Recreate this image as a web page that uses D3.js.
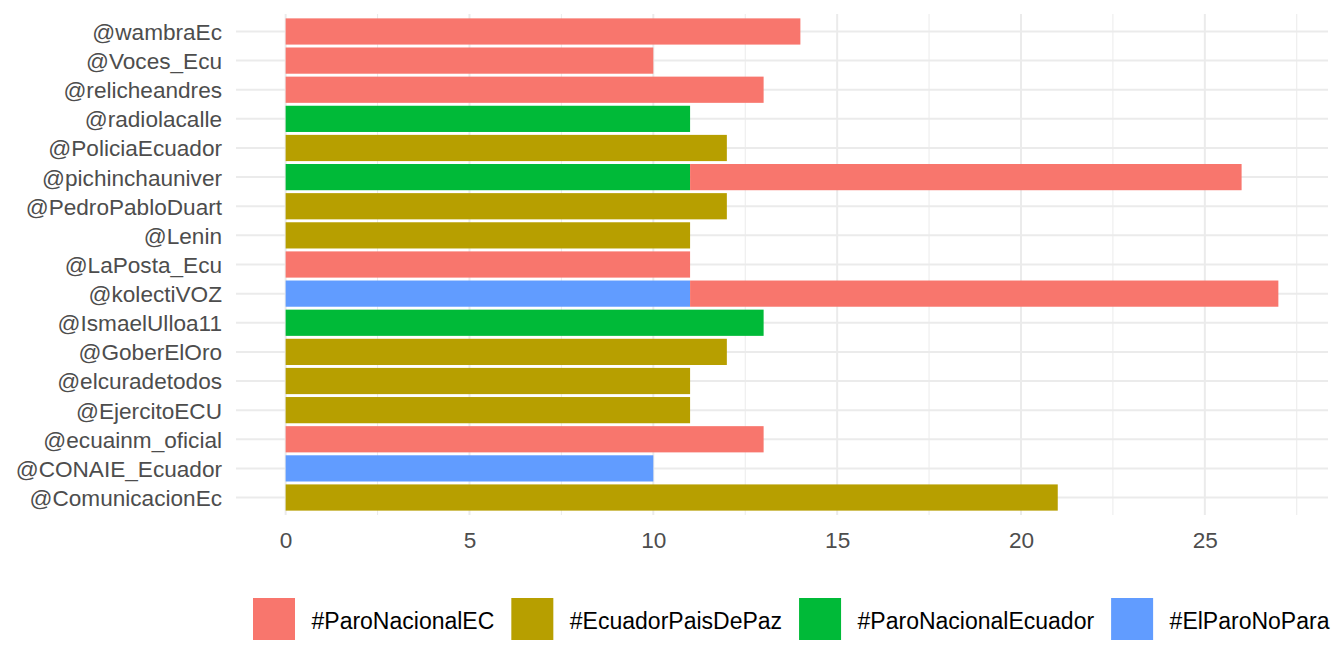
<!DOCTYPE html>
<html>
<head>
<meta charset="utf-8">
<script src="https://cdn.jsdelivr.net/npm/d3@7"></script>
<style>
body { margin: 0; background: white; }
text { font-family: "Liberation Sans", Arial, sans-serif; }
</style>
</head>
<body>
<svg></svg>
<script>
var screen = {width: 1344, height: 672};
var panel = {left: 236, right: 1328, top: 14, bottom: 515};

// users, top to bottom as drawn
var users = ["@wambraEc", "@Voces_Ecu", "@relicheandres", "@radiolacalle", "@PoliciaEcuador",
             "@pichinchauniver", "@PedroPabloDuart", "@Lenin", "@LaPosta_Ecu", "@kolectiVOZ",
             "@IsmaelUlloa11", "@GoberElOro", "@elcuradetodos", "@EjercitoECU", "@ecuainm_oficial",
             "@CONAIE_Ecuador", "@ComunicacionEc"];

var hashtags = ["#ParoNacionalEC", "#EcuadorPaisDePaz", "#ParoNacionalEcuador", "#ElParoNoPara"];
var colors = ["#F8766D", "#B79F00", "#00BA38", "#619CFF"];

var paroNacionalEC      = [14, 10, 13, 0, 0, 15, 0, 0, 11, 16, 0, 0, 0, 0, 13, 0, 0];
var ecuadorPaisDePaz    = [0, 0, 0, 0, 12, 0, 12, 11, 0, 0, 0, 12, 11, 11, 0, 0, 21];
var paroNacionalEcuador = [0, 0, 0, 11, 0, 11, 0, 0, 0, 0, 13, 0, 0, 0, 0, 0, 0];
var elParoNoPara        = [0, 0, 0, 0, 0, 0, 0, 0, 0, 11, 0, 0, 0, 0, 0, 10, 0];

var xTicks = [0, 5, 10, 15, 20, 25];
var xMinor = [2.5, 7.5, 12.5, 17.5, 22.5, 27.5];

var series = [paroNacionalEC, ecuadorPaisDePaz, paroNacionalEcuador, elParoNoPara];

var rows = users.map(function(u, i)
{
    var row = {user: u};
    hashtags.forEach(function(h, j){ row[h] = series[j][i]; });
    return row;
});

var svg = d3.select("svg")
    .attr("width", screen.width)
    .attr("height", screen.height);

var maxTotal = d3.max(rows, function(r){ return d3.sum(hashtags, function(h){ return r[h]; }); });
var pad = maxTotal * 0.05;

var xScale = d3.scaleLinear()
    .domain([-pad, maxTotal + pad])
    .range([panel.left, panel.right]);

var yScale = d3.scalePoint()
    .domain(users)
    .range([panel.top, panel.bottom])
    .padding(0.6);

var color = d3.scaleOrdinal().domain(hashtags).range(colors);

// grid
var grid = svg.append("g").attr("id", "grid");

grid.selectAll(".minor")
    .data(xMinor)
    .enter()
    .append("line")
    .attr("class", "minor")
    .attr("x1", function(d){ return xScale(d); })
    .attr("x2", function(d){ return xScale(d); })
    .attr("y1", panel.top)
    .attr("y2", panel.bottom)
    .attr("stroke", "#EBEBEB")
    .attr("stroke-width", 1);

grid.selectAll(".major")
    .data(xTicks)
    .enter()
    .append("line")
    .attr("class", "major")
    .attr("x1", function(d){ return xScale(d); })
    .attr("x2", function(d){ return xScale(d); })
    .attr("y1", panel.top)
    .attr("y2", panel.bottom)
    .attr("stroke", "#EBEBEB")
    .attr("stroke-width", 2);

grid.selectAll(".hmajor")
    .data(users)
    .enter()
    .append("line")
    .attr("class", "hmajor")
    .attr("x1", panel.left)
    .attr("x2", panel.right)
    .attr("y1", function(d){ return yScale(d); })
    .attr("y2", function(d){ return yScale(d); })
    .attr("stroke", "#EBEBEB")
    .attr("stroke-width", 2);

// bars, first hashtag stacked at the far end like ggplot
var stack = d3.stack().keys(hashtags.slice().reverse());
var layers = stack(rows);
var barH = yScale.step() * 0.9;

svg.append("g")
    .attr("id", "bars")
    .selectAll("g")
    .data(layers)
    .enter()
    .append("g")
    .attr("fill", function(d){ return color(d.key); })
    .selectAll("rect")
    .data(function(d){ return d.filter(function(p){ return p[1] > p[0]; }); })
    .enter()
    .append("rect")
    .attr("x", function(p){ return xScale(p[0]); })
    .attr("width", function(p){ return xScale(p[1]) - xScale(p[0]); })
    .attr("y", function(p){ return yScale(p.data.user) - barH / 2; })
    .attr("height", barH);

// x axis
var xAxis = d3.axisBottom(xScale).tickValues(xTicks).tickSize(0);

svg.append("g")
    .attr("id", "xAxis")
    .attr("transform", "translate(0," + panel.bottom + ")")
    .call(xAxis)
    .call(function(g){ g.select(".domain").remove(); });

d3.selectAll("#xAxis text")
    .attr("y", 33)
    .attr("dy", 0)
    .attr("fill", "#4D4D4D")
    .style("font-size", "22.6px")
    .style("font-family", "'Liberation Sans', Arial, sans-serif");

// y axis
var yAxis = d3.axisLeft(yScale).tickSize(0).tickPadding(14);

svg.append("g")
    .attr("id", "yAxis")
    .attr("transform", "translate(" + panel.left + ",0)")
    .call(yAxis)
    .call(function(g){ g.select(".domain").remove(); });

d3.selectAll("#yAxis text")
    .attr("fill", "#4D4D4D")
    .attr("dy", "0.35em")
    .style("font-size", "22.6px")
    .style("font-family", "'Liberation Sans', Arial, sans-serif");

// legend
var legend = svg.append("g").attr("id", "legend");
var lx = 253;
hashtags.forEach(function(h)
{
    legend.append("rect")
        .attr("x", lx)
        .attr("y", 598)
        .attr("width", 42)
        .attr("height", 42)
        .attr("fill", color(h));
    var t = legend.append("text")
        .attr("x", lx + 58.5)
        .attr("y", 629)
        .attr("fill", "black")
        .style("font-size", "23px")
        .text(h);
    lx = lx + 58.5 + t.node().getComputedTextLength() + 17;
});
</script>
</body>
</html>
